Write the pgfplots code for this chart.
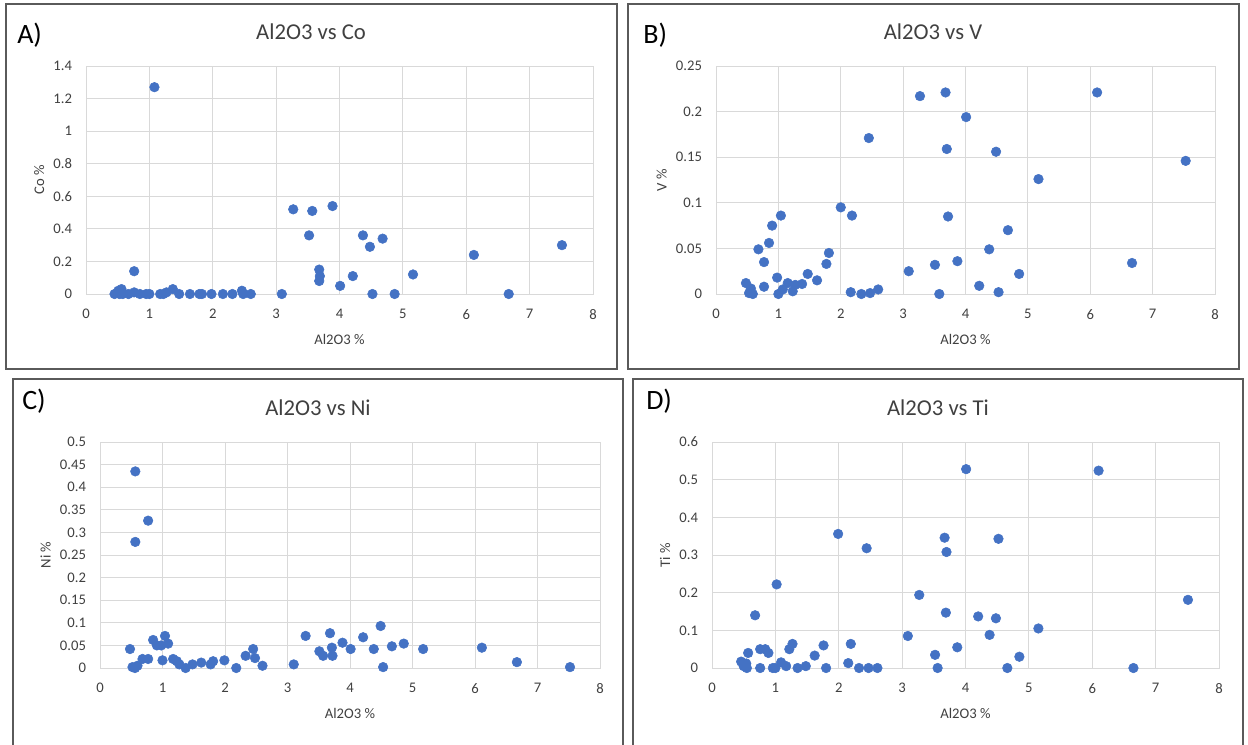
\documentclass[border=0pt]{standalone}
\usepackage{pgfplots}
\pgfplotsset{compat=1.18}
\usepackage{pgfplotstable}
\usepackage{fontspec}
\setmainfont{Carlito}

\definecolor{dotblue}{HTML}{4472C4}
\definecolor{gridgray}{HTML}{D9D9D9}
\definecolor{txt}{HTML}{404040}
\definecolor{framegray}{HTML}{5A5A5A}

% Al2O3 (x) against the trace elements (y), in %
\pgfplotstableread{
x y
1.08 1.27
0.76 0.14
0.45 0.00
0.51 0.02
0.53 0.00
0.56 0.03
0.58 0.00
0.67 0.00
0.76 0.01
0.85 0.00
0.95 0.00
1.00 0.00
1.17 0.00
1.22 0.00
1.27 0.01
1.37 0.03
1.47 0.00
1.64 0.00
1.79 0.00
1.83 0.00
1.98 0.00
2.16 0.00
2.31 0.00
2.46 0.02
2.48 0.00
2.60 0.00
3.09 0.00
3.27 0.52
3.57 0.51
3.52 0.36
3.89 0.54
3.68 0.15
3.69 0.11
3.68 0.08
4.01 0.05
4.21 0.11
4.37 0.36
4.48 0.29
4.68 0.34
4.52 0.00
4.87 0.00
5.16 0.12
6.12 0.24
6.67 0.00
7.51 0.30
}\cotable

\pgfplotstableread{
x y
0.48 0.012
0.53 0.001
0.56 0.006
0.59 0.000
0.68 0.049
0.77 0.035
0.77 0.008
0.85 0.056
0.90 0.075
0.98 0.018
1.00 0.000
1.04 0.086
1.07 0.005
1.15 0.012
1.23 0.003
1.27 0.010
1.38 0.011
1.47 0.022
1.62 0.015
1.77 0.033
1.81 0.045
2.00 0.095
2.18 0.086
2.16 0.002
2.33 0.000
2.45 0.171
2.47 0.001
2.60 0.005
3.09 0.025
3.27 0.217
3.68 0.221
3.70 0.159
3.72 0.085
3.51 0.032
3.58 0.000
3.87 0.036
4.01 0.194
4.49 0.156
4.38 0.049
4.68 0.070
4.22 0.009
4.53 0.002
4.86 0.022
5.17 0.126
6.11 0.221
6.67 0.034
7.53 0.146
}\vtable

\pgfplotstableread{
x y
0.48 0.042
0.52 0.002
0.565 0.435
0.565 0.279
0.56 0.000
0.60 0.005
0.68 0.020
0.77 0.326
0.77 0.020
0.85 0.062
0.91 0.050
0.98 0.050
1.00 0.017
1.04 0.071
1.09 0.054
1.17 0.020
1.23 0.015
1.27 0.008
1.37 0.000
1.48 0.008
1.62 0.012
1.77 0.008
1.81 0.015
1.99 0.017
2.18 0.000
2.33 0.027
2.45 0.042
2.48 0.022
2.60 0.005
3.10 0.008
3.29 0.071
3.51 0.037
3.57 0.027
3.68 0.077
3.71 0.045
3.72 0.027
3.88 0.056
4.01 0.042
4.21 0.068
4.38 0.042
4.49 0.093
4.53 0.002
4.67 0.048
4.86 0.054
5.17 0.042
6.11 0.045
6.67 0.013
7.52 0.002
}\nitable

\pgfplotstableread{
x y
0.46 0.017
0.50 0.005
0.54 0.012
0.57 0.040
0.55 0.000
0.68 0.140
0.76 0.050
0.76 0.000
0.84 0.050
0.89 0.040
0.96 0.000
1.00 0.000
1.02 0.222
1.09 0.015
1.17 0.005
1.22 0.050
1.27 0.064
1.35 0.000
1.48 0.005
1.62 0.033
1.76 0.060
1.80 0.000
1.99 0.356
2.15 0.013
2.19 0.064
2.32 0.000
2.44 0.318
2.47 0.000
2.61 0.000
3.09 0.085
3.27 0.194
3.52 0.035
3.56 0.000
3.67 0.346
3.70 0.308
3.69 0.147
3.87 0.055
4.01 0.528
4.52 0.343
4.20 0.137
4.48 0.132
4.38 0.088
5.15 0.105
4.85 0.030
4.66 0.000
6.10 0.524
6.65 0.000
7.51 0.181
}\titable

\pgfplotsset{
  panel/.style={
    scale only axis,
    anchor=south west,
    xmin=0, xmax=8, xtick={0,1,...,8},
    ymin=0,
    grid=major,
    major grid style={gridgray, line width=0.75pt},
    axis line style={gridgray, line width=0.75pt},
    major tick length=0pt,
    tick label style={font=\fontsize{11}{13}\selectfont, text=txt},
    xticklabel style={yshift=-8pt},
    yticklabel style={xshift=-7pt},
    label style={font=\fontsize{11}{13}\selectfont, text=txt},
    xlabel style={yshift=-4pt},
    /pgf/number format/assume math mode=true,
    /pgf/number format/fixed,
    xlabel={Al2O3 \%},
    clip=false,
  },
  dots/.style={only marks, mark=*, mark size=3.6pt,
    mark options={draw=dotblue, fill=dotblue}},
}

\begin{document}
\begin{tikzpicture}
\path[use as bounding box] (0pt,0pt) rectangle (936pt,-558pt);

% panel frames
\draw[framegray, line width=1.1pt] (4.5pt,-3pt) rectangle (462.75pt,-276.75pt);
\draw[framegray, line width=1.1pt] (471pt,-3pt) rectangle (929.25pt,-276.75pt);
\draw[framegray, line width=1.1pt] (9.75pt,-560pt) -- (9.75pt,-284.25pt) -- (467.25pt,-284.25pt) -- (467.25pt,-560pt);
\draw[framegray, line width=1.1pt] (474.75pt,-560pt) -- (474.75pt,-284.25pt) -- (932.25pt,-284.25pt) -- (932.25pt,-560pt);

\begin{axis}[panel, at={(64.5pt,-220.5pt)}, width=380.25pt, height=171pt,
  ymax=1.4, ytick={0,0.2,0.4,0.6,0.8,1,1.2,1.4}, ylabel={Co \%}]
\addplot[dots] table {\cotable};
\end{axis}

\begin{axis}[panel, at={(537pt,-220.5pt)}, width=374.25pt, height=171pt,
  ymax=0.25, ytick={0,0.05,0.1,0.15,0.2,0.25}, ylabel={V \%}]
\addplot[dots] table {\vtable};
\end{axis}

\begin{axis}[panel, at={(75pt,-501pt)}, width=375pt, height=169.5pt,
  ymax=0.5, ytick={0,0.05,0.1,0.15,0.2,0.25,0.3,0.35,0.4,0.45,0.5}, ylabel={Ni \%}]
\addplot[dots] table {\nitable};
\end{axis}

\begin{axis}[panel, at={(534pt,-501pt)}, width=380.25pt, height=169.5pt,
  ymax=0.6, ytick={0,0.1,0.2,0.3,0.4,0.5,0.6}, ylabel={Ti \%}]
\addplot[dots] table {\titable};
\end{axis}

% titles and panel letters
\begin{scope}[x=0.75pt, y=-0.75pt]
\tikzset{ttl/.style={text=txt, font=\fontsize{17}{19}\selectfont, anchor=base, inner sep=0pt},
         lett/.style={font=\fontsize{21}{23}\selectfont, anchor=base west, inner sep=0pt}}
\node[ttl] at (311,39) {Al2O3 vs Co};
\node[ttl] at (933,39) {Al2O3 vs V};
\node[ttl] at (318,415) {Al2O3 vs Ni};
\node[ttl] at (938,415) {Al2O3 vs Ti};
\node[lett] at (17,43) {A)};
\node[lett] at (643,43) {B)};
\node[lett] at (22,409) {C)};
\node[lett] at (646,409) {D)};
\end{scope}
\end{tikzpicture}
\end{document}
